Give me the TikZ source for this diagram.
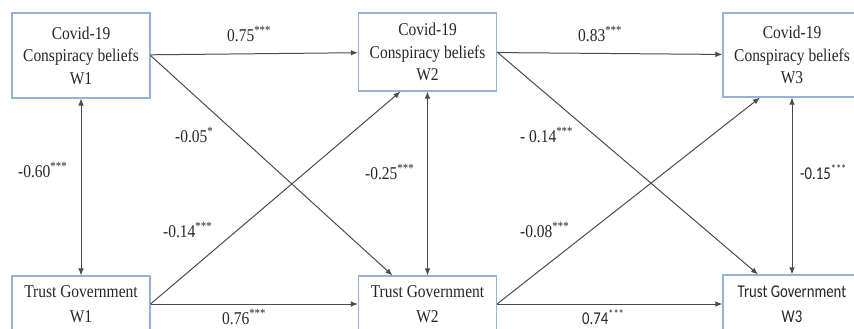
\documentclass[tikz,border=0pt]{standalone}
\usepackage{fontspec}
\setmainfont{Liberation Serif}
\newfontfamily\timesfont[FakeStretch=0.86]{Liberation Serif}
\newfontfamily\carlito[FakeStretch=0.82]{Carlito}
\usetikzlibrary{arrows.meta}
\definecolor{boxblue}{RGB}{150,178,212}
\definecolor{pathgray}{RGB}{75,75,75}

\begin{document}
\begin{tikzpicture}[
    x=1pt, y=-1pt,
    >={Latex[length=7pt,width=5.5pt]},
    varbox/.style={shape=rectangle, draw=boxblue, line width=1.1pt, minimum width=138pt, align=center, text=black!85, font=\timesfont\fontsize{18}{22.5}\selectfont},
    coef/.style={anchor=west, inner sep=0pt, text=black!85, font=\timesfont\fontsize{18}{20}\selectfont},
]
\clip (0,0) rectangle (854,329);

\node[varbox, minimum height=85pt] (cb1) at (81, 55.5) {Covid-19\\Conspiracy beliefs\\W1};
\node[varbox, minimum height=78pt] (cb2) at (427.5, 52) {Covid-19\\Conspiracy beliefs\\W2};
\node[varbox, minimum height=84pt] (cb3) at (792, 55) {Covid-19\\Conspiracy beliefs\\W3};
\node[varbox, minimum height=56pt, font=\timesfont\fontsize{18}{25}\selectfont] (tg1) at (81, 304) {Trust Government\\W1};
\node[varbox, minimum height=56pt, font=\timesfont\fontsize{18}{25}\selectfont] (tg2) at (427.5, 304) {Trust Government\\W2};
\node[varbox, minimum height=58pt, font=\carlito\fontsize{18}{25}\selectfont] (tg3) at (792, 304) {Trust Government\\W3};

\node[coef] (b1) at (227, 34) {0.75\textsuperscript{***}};
\node[coef] (b2) at (578, 34) {0.83\textsuperscript{***}};
\node[coef] (b3) at (222, 317) {0.76\textsuperscript{***}};
\node[coef, font=\carlito\fontsize{18}{20}\selectfont] (b4) at (582, 317) {0.74\textsuperscript{***}};
\node[coef] (b5) at (175, 135) {-0.05\textsuperscript{*}};
\node[coef] (b6) at (163, 230) {-0.14\textsuperscript{***}};
\node[coef] (b7) at (520, 135) {- 0.14\textsuperscript{***}};
\node[coef] (b8) at (520, 230) {-0.08\textsuperscript{***}};
\node[coef] (r1) at (18, 170) {-0.60\textsuperscript{***}};
\node[coef] (r2) at (365, 172) {-0.25\textsuperscript{***}};
\node[coef, font=\carlito\fontsize{18}{20}\selectfont] (r3) at (800, 172) {-0.15\textsuperscript{***}};

\path[->, pathgray, line width=1pt]
    (cb1) edge (cb2)
    (cb2) edge (cb3)
    (tg1) edge (tg2)
    (tg2) edge (tg3)
    (cb1.east) edge ([xshift=-35pt]tg2.north)
    (tg1.east) edge ([xshift=-27pt]cb2.south)
    (cb2.east) edge ([xshift=-34pt]tg3.north)
    (tg2.east) edge ([xshift=-32pt]cb3.south)
    (cb1) edge[<->] (tg1)
    (cb2) edge[<->] (tg2)
    (cb3) edge[<->] (tg3)
;
\end{tikzpicture}
\end{document}
